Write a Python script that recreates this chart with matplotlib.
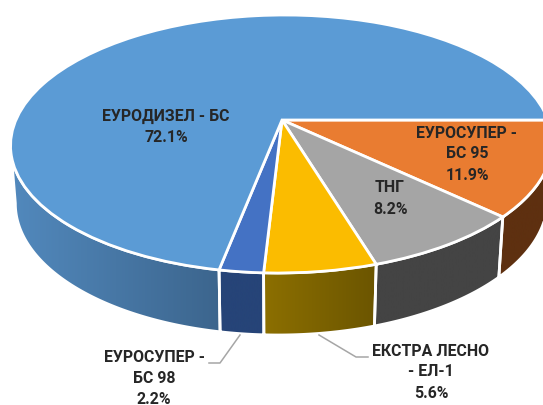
import numpy as np
import matplotlib
matplotlib.use("Agg")
import matplotlib.pyplot as plt
from matplotlib.patches import Polygon
from matplotlib.path import Path
from matplotlib.transforms import Transform
from matplotlib.colors import to_rgb

categories = ["ЕУРОСУПЕР - БС 95", "ТНГ", "ЕКСТРА ЛЕСНО - ЕЛ-1", "ЕУРОСУПЕР - БС 98", "ЕУРОДИЗЕЛ - БС"]
values = [11.9, 8.2, 5.6, 2.2, 72.1]
top_colors = ["#E97C31", "#A5A5A5", "#FBBC00", "#4472C4", "#5B9BD5"]
wall_left = ["#5E3010", "#444444", "#8C6F00", "#264478", "#5289BD"]
wall_right = ["#5E3010", "#444444", "#6B5500", "#264478", "#3C658D"]
label_text = [["ЕУРОСУПЕР -", "БС 95", "11.9%"], ["ТНГ", "8.2%"], ["ЕКСТРА ЛЕСНО", "- ЕЛ-1", "5.6%"],
              ["ЕУРОСУПЕР -", "БС 98", "2.2%"], ["ЕУРОДИЗЕЛ - БС", "72.1%"]]
label_x = [467, 390, 431, 154, 166]
label_y = [133, 188, 351, 358, 116]
label_step = [21, 21, 21, 20.5, 22]

# perspective of the pie disc, in pixels
V0 = 24 / 129
SHEAR = 3.4
TOP = (282, 144, 270.8, 129)
BOTTOM = (282, 202, 266, 133)


def project(xy, ell=TOP):
    xy = np.asarray(xy, dtype=float)
    u, v = xy[..., 0], xy[..., 1]
    d = 1 + v * V0
    up = u * np.sqrt(1 - V0 ** 2) / d
    vp = (v + V0) / d
    return np.stack([ell[0] + ell[2] * up - SHEAR * (V0 - vp), ell[1] - ell[3] * vp], axis=-1)


class PieProjection(Transform):
    input_dims = 2
    output_dims = 2
    is_separable = False
    has_inverse = False

    def transform_non_affine(self, values):
        return project(values)

    def transform_path_non_affine(self, path):
        return Path(project(path.vertices), path.codes)


fig = plt.figure(figsize=(5.43, 4.05), dpi=100)
ax = fig.add_axes([0, 0, 1, 1])
wedges, _ = ax.pie(values, startangle=0, counterclock=False, colors=top_colors,
                   wedgeprops=dict(edgecolor="white", linewidth=2.0, zorder=5))
proj = PieProjection()
for w in wedges:
    w.set_transform(proj + ax.transData)

# side walls: only the part of each slice's rim that faces the viewer
ramp = np.linspace(0, 1, 256)
for w, cl, cr in zip(wedges, wall_left, wall_right):
    th = np.radians(np.linspace(w.theta1, w.theta2, 400))
    th = th[np.sin(th) <= -V0]
    unit = np.stack([np.cos(th), np.sin(th)], axis=-1)
    upper = project(unit, TOP)
    lower = project(unit, BOTTOM)
    pts = np.vstack([upper, lower[::-1]])
    poly = Polygon(pts, closed=True, facecolor="none", edgecolor="white", linewidth=2.0, zorder=3)
    ax.add_patch(poly)
    x0, x1 = pts[:, 0].min(), pts[:, 0].max()
    c0, c1 = np.array(to_rgb(cl)), np.array(to_rgb(cr))
    grad = (c0[None, :] * (1 - ramp[:, None]) + c1[None, :] * ramp[:, None])[None, :, :]
    im = ax.imshow(grad, extent=(x0, x1, 405, 0), aspect="auto", zorder=2)
    im.set_clip_path(Polygon(pts, closed=True, transform=ax.transData))

# leader lines
ax.plot([240, 220, 209], [335, 363, 363], color="#A6A6A6", lw=1.1, zorder=6)
ax.plot([319, 356, 368], [335, 357, 357], color="#A6A6A6", lw=1.1, zorder=6)

ax.set_xlim(0, 543)
ax.set_ylim(405, 0)
ax.set_aspect("auto")
ax.axis("off")

for lines, lx, ly, step in zip(label_text, label_x, label_y, label_step):
    for i, line in enumerate(lines):
        ax.text(lx, ly + i * step, line, ha="center", va="center", color="#262626", zorder=7,
                fontsize=11.4, fontweight="bold", family=["Roboto", "Liberation Sans"])

fig.savefig("out.png", dpi=100)
